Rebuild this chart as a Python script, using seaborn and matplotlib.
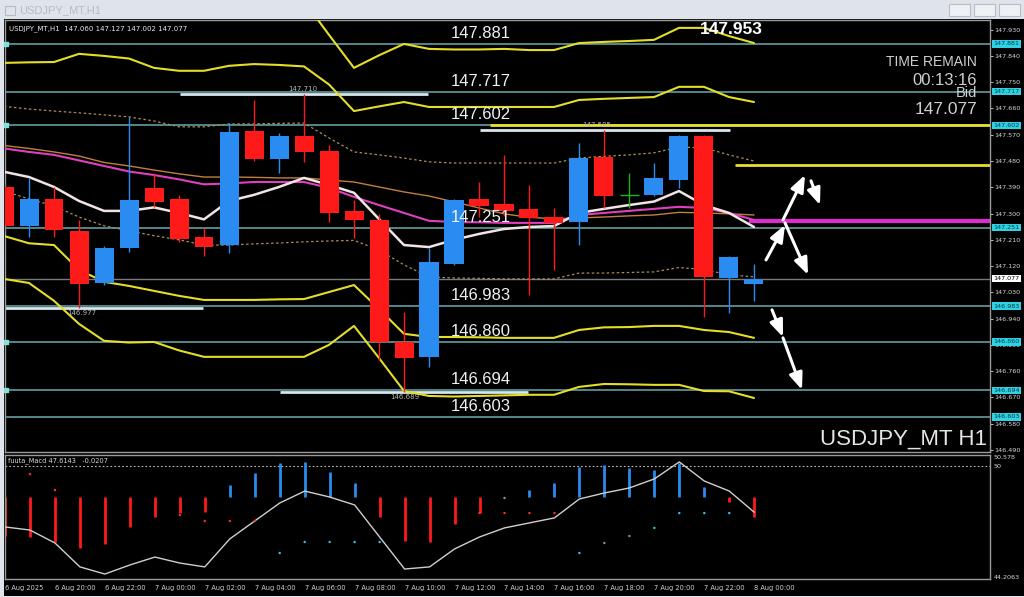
import numpy as np
import pandas as pd
import seaborn as sns
import matplotlib.pyplot as plt
from matplotlib.patches import Rectangle
from matplotlib.transforms import blended_transform_factory

sns.set_style('dark')
plt.rcParams['font.family'] = ['Liberation Sans', 'DejaVu Sans']

# ---- USDJPY H1 candles, 6 Aug 18:00 -> 8 Aug 00:00 ----
opens = [147.391, 147.258, 147.350, 147.240, 147.062, 147.182, 147.388, 147.350, 147.220, 147.192,
         147.583, 147.487, 147.566, 147.514, 147.309, 147.278, 146.860, 146.809, 147.127, 147.350,
         147.333, 147.316, 147.288, 147.271, 147.494, 147.364, 147.364, 147.415, 147.566, 147.079, 147.060]
highs = [147.400, 147.422, 147.391, 147.278, 147.190, 147.631, 147.439, 147.362, 147.251, 147.610,
         147.689, 147.576, 147.710, 147.535, 147.347, 147.300, 146.963, 147.182, 147.350, 147.408,
         147.501, 147.398, 147.319, 147.542, 147.585, 147.439, 147.473, 147.570, 147.570, 147.155, 147.127]
lows = [147.240, 147.220, 147.220, 146.977, 147.055, 147.168, 147.323, 147.203, 147.155, 147.165,
        147.480, 147.439, 147.477, 147.271, 147.216, 146.798, 146.689, 146.774, 147.124, 147.288,
        147.290, 147.021, 147.107, 147.192, 147.319, 147.319, 147.360, 147.388, 146.946, 146.959, 147.002]
closes = [147.258, 147.350, 147.244, 147.059, 147.182, 147.347, 147.340, 147.213, 147.185, 147.580,
          147.487, 147.566, 147.511, 147.302, 147.278, 146.860, 146.805, 147.134, 147.347, 147.326,
          147.309, 147.285, 147.268, 147.490, 147.360, 147.364, 147.422, 147.566, 147.083, 147.151, 147.077]

# ---- indicator lines on the price chart ----
band_up3 = [148.12, 148.14, 148.15, 148.19, 148.21, 148.22, 148.20, 148.18, 148.15, 148.12,
            148.09, 148.06, 148.028, 147.912, 147.799, 147.842, 147.881, 147.864, 147.862, 147.862,
            147.864, 147.860, 147.860, 147.884, 147.888, 147.891, 147.895, 147.936, 147.936, 147.908, 147.884]
band_up2 = [147.816, 147.818, 147.819, 147.847, 147.840, 147.831, 147.799, 147.789, 147.789, 147.806,
            147.812, 147.809, 147.804, 147.742, 147.651, 147.667, 147.682, 147.665, 147.665, 147.665,
            147.665, 147.665, 147.665, 147.689, 147.693, 147.696, 147.699, 147.734, 147.734, 147.699, 147.682]
band_up1 = [147.667, 147.658, 147.651, 147.645, 147.638, 147.631, 147.617, 147.597, 147.597, 147.607,
            147.607, 147.609, 147.610, 147.559, 147.511, 147.501, 147.490, 147.477, 147.473, 147.473,
            147.473, 147.473, 147.473, 147.490, 147.496, 147.501, 147.508, 147.528, 147.525, 147.501, 147.480]
ma_mid = [147.533, 147.523, 147.511, 147.497, 147.475, 147.463, 147.449, 147.436, 147.425, 147.425,
          147.424, 147.422, 147.422, 147.415, 147.408, 147.391, 147.374, 147.360, 147.340, 147.319,
          147.299, 147.287, 147.282, 147.285, 147.288, 147.292, 147.295, 147.304, 147.302, 147.299, 147.295]
ma_pink = [147.523, 147.511, 147.501, 147.482, 147.463, 147.444, 147.432, 147.417, 147.400, 147.403,
           147.408, 147.408, 147.408, 147.388, 147.357, 147.329, 147.302, 147.275, 147.271, 147.270,
           147.268, 147.268, 147.268, 147.295, 147.302, 147.309, 147.316, 147.323, 147.319, 147.302, 147.278]
ma_fast = [147.443, 147.425, 147.391, 147.343, 147.309, 147.309, 147.321, 147.302, 147.280, 147.343,
           147.364, 147.391, 147.422, 147.398, 147.371, 147.281, 147.192, 147.185, 147.210, 147.230,
           147.247, 147.254, 147.257, 147.302, 147.316, 147.329, 147.341, 147.377, 147.329, 147.302, 147.254]
band_dn1 = [147.377, 147.350, 147.326, 147.288, 147.258, 147.241, 147.224, 147.210, 147.192, 147.192,
            147.196, 147.199, 147.203, 147.206, 147.208, 147.175, 147.124, 147.083, 147.079, 147.078,
            147.076, 147.076, 147.076, 147.096, 147.096, 147.098, 147.100, 147.115, 147.108, 147.090, 147.083]
band_dn2 = [147.223, 147.198, 147.192, 147.107, 147.066, 147.052, 147.035, 147.018, 147.004, 147.004,
            147.004, 147.006, 147.007, 147.031, 147.055, 146.973, 146.888, 146.877, 146.877, 146.876,
            146.874, 146.874, 146.874, 146.901, 146.910, 146.911, 146.915, 146.915, 146.901, 146.894, 146.874]
band_dn3 = [147.076, 147.062, 147.001, 146.922, 146.864, 146.858, 146.860, 146.831, 146.809, 146.809,
            146.809, 146.809, 146.809, 146.850, 146.915, 146.805, 146.692, 146.675, 146.673, 146.675,
            146.677, 146.679, 146.679, 146.706, 146.716, 146.715, 146.713, 146.713, 146.692, 146.691, 146.668]

# ---- levels ----
levels = [147.881, 147.717, 147.602, 147.251, 146.983, 146.860, 146.694, 146.603]
level_marked = [147.881, 147.602, 146.860, 146.694]
bid = 147.077
price_ticks = ['147.930', '147.840', '147.750', '147.660', '147.570', '147.480', '147.390', '147.300',
               '147.210', '147.120', '147.030', '146.940', '146.850', '146.760', '146.670', '146.580', '146.490']
# high / low markers: (price, first candle, last candle, label)
hl_price = [147.710, 147.585, 146.977, 146.689]
hl_from = [7.04, 19.04, 0.04, 11.04]
hl_to = [16.96, 29.04, 7.96, 20.96]
hl_label_x = [11.96, 23.72, 3.12, 16.04]

# ---- fuuta_Macd sub window ----
osc_line = [46.85, 46.69, 46.02, 44.78, 44.41, 44.88, 45.29, 44.98, 44.78, 46.23,
            47.16, 48.09, 48.71, 48.40, 47.99, 46.33, 44.67, 44.78, 45.71, 46.33,
            46.80, 47.06, 47.32, 48.30, 48.61, 48.87, 49.34, 50.22, 49.23, 48.71, 47.61]
osc_base = 48.38
osc_bars = [46.38, 46.33, 46.07, 45.76, 45.97, 46.85, 47.37, 47.57, 47.63, 49.02,
            49.65, 50.16, 50.22, 49.70, 49.13, 47.37, 46.12, 46.07, 47.00, 47.57,
            48.38, 48.76, 49.13, 49.96, 50.06, 49.90, 49.80, 50.16, 48.92, 48.14, 47.37]
dot_idx = [1, 2, 7, 8, 9, 10, 11, 12, 13, 14, 15, 19, 20, 20, 21, 22, 23, 24, 25, 26, 27, 28, 29]
dot_val = [49.59, 48.76, 47.47, 47.16, 47.16, 47.16, 45.50, 46.07, 46.07, 46.07, 46.07, 47.57, 48.35,
           47.57, 47.57, 47.57, 45.50, 46.02, 46.38, 46.80, 47.57, 47.57, 47.57]
dot_kind = ['r', 'r', 'r', 'r', 'r', 'r', 'c', 'c', 'c', 'c', 'c', 'r', 'g', 'r', 'r', 'r', 'c', 'g', 'g',
            'c', 'c', 'c', 'c']

time_labels = ['6 Aug 2025', '6 Aug 20:00', '6 Aug 22:00', '7 Aug 00:00', '7 Aug 02:00', '7 Aug 04:00',
               '7 Aug 06:00', '7 Aug 08:00', '7 Aug 10:00', '7 Aug 12:00', '7 Aug 14:00', '7 Aug 16:00',
               '7 Aug 18:00', '7 Aug 20:00', '7 Aug 22:00', '8 Aug 00:00']

df = pd.DataFrame({'o': opens, 'h': highs, 'l': lows, 'c': closes})
df['i'] = np.arange(len(df))

W, H = 1024, 597
fig = plt.figure(figsize=(W / 100, H / 100), dpi=100, facecolor='#dfe4ea')

def px_axes(x0, y0, x1, y1, **kw):
    return fig.add_axes([x0 / W, 1 - y1 / H, (x1 - x0) / W, (y1 - y0) / H], **kw)

# window chrome
bg = px_axes(4, 19, 1024, 596)
bg.set_facecolor('black')
bg.set_xticks([]); bg.set_yticks([])
for s in bg.spines.values():
    s.set_visible(False)
fig.text(19 / W, 1 - 10 / H, 'USDJPY_MT,H1', color='#b4bcc6', fontsize=8, va='center')
fig.patches.append(Rectangle((5 / W, 1 - 15 / H), 10 / W, 9 / H, transform=fig.transFigure,
                             fc='none', ec='#b4bcc6', lw=0.8))
for bx in [949, 974, 999]:
    fig.patches.append(Rectangle((bx / W, 1 - 16 / H), 21 / W, 12 / H, transform=fig.transFigure,
                                 fc='#eef1f4', ec='#b8bec6', lw=0.8))

XMIN, XMAX = 0.04, 39.44
ax = px_axes(5, 20, 990, 452)
ax.set_facecolor('black')
ax.set_xlim(XMIN, XMAX)
ax.set_ylim(146.483, 147.963)
for s in ax.spines.values():
    s.set_color('#9a9a9a'); s.set_linewidth(1)

yl = blended_transform_factory(ax.transAxes, ax.transData)

# horizontal levels
for lv in levels:
    ax.axhline(lv, color='#5f9ea0', lw=1.2, zorder=1)
ax.scatter([XMIN + 0.04] * len(level_marked), level_marked, marker='s', s=8, color='#7fe0e0',
           zorder=3, clip_on=False)
ax.axhline(bid, color='#7a7a7a', lw=1, zorder=1)

# yellow / magenta projection lines
ax.hlines(147.602, 19.44, XMAX, color='#e8e02a', lw=2, zorder=2)
ax.hlines(147.466, 29.24, XMAX, color='#e8e02a', lw=2, zorder=2)
ax.hlines(147.275, 29.8, XMAX, color='#e02ad0', lw=3, zorder=2)

# high / low markers
for p, a, b, lx in zip(hl_price, hl_from, hl_to, hl_label_x):
    ax.hlines(p, a, b, color='#d8e6ee', lw=2, zorder=2)
    above = p > 147.3
    ax.text(lx, p + (0.008 if above else -0.008), f'{p:.3f}', color='#b8b8b8', fontsize=5,
            ha='center', va='bottom' if above else 'top', family='DejaVu Sans', zorder=4)

# bands and moving averages
sty = dict(ax=ax, x=df['i'], legend=False, estimator=None, sort=False)
for ser in [band_up3, band_up2, band_dn2, band_dn3]:
    sns.lineplot(y=ser, color='#e4de28', lw=1.5, zorder=3, **sty)
for ser in [band_up1, band_dn1]:
    sns.lineplot(y=ser, color='#a8905a', lw=0.9, linestyle=(0, (2, 2)), zorder=3, **sty)
sns.lineplot(y=ma_mid, color='#c0803c', lw=1, zorder=3, **sty)
sns.lineplot(y=ma_pink, color='#e040c0', lw=1.5, zorder=3, **sty)
sns.lineplot(y=ma_fast, color='#f2e4e4', lw=1.8, zorder=3, **sty)

# candles
up_col, dn_col = '#2a8cf0', '#ff1a1a'
for r in df.itertuples():
    col = up_col if r.c > r.o else (dn_col if r.c < r.o else '#22b022')
    ax.vlines(r.i, r.l, r.h, color=col, lw=1, zorder=4)
    if r.c == r.o:
        ax.hlines(r.o, r.i - 0.38, r.i + 0.38, color=col, lw=1, zorder=4)
    else:
        ax.bar(r.i, abs(r.c - r.o), bottom=min(r.o, r.c), width=0.76, color=col, lw=0, zorder=5)

# level labels
for lv in levels:
    ax.text(17.88, lv + 0.011, f'{lv:.3f}', color='#f0f0f0', fontsize=12, va='bottom', ha='left', zorder=6)

# arrows (index, price)
arrows = [((30.48, 147.141), (31.24, 147.261)), ((31.16, 147.278), (32.04, 147.432)),
          ((32.28, 147.412), (32.64, 147.329)), ((31.24, 147.268), (32.16, 147.090)),
          ((30.72, 146.970), (31.16, 146.877)), ((31.16, 146.874), (31.92, 146.696))]
for s, e in arrows:
    ax.annotate('', xy=e, xytext=s, zorder=7,
                arrowprops=dict(arrowstyle='-|>,head_length=1.0,head_width=0.4', color='white', lw=2.2,
                                shrinkA=0, shrinkB=0))

# right price scale
ax.yaxis.tick_right()
ax.set_yticks([float(t) for t in price_ticks])
ax.set_yticklabels(price_ticks)
ax.tick_params(axis='y', colors='#d8d8d8', labelsize=4.6, length=2, width=0.6, pad=1)
ax.tick_params(axis='x', bottom=False, labelbottom=False)
ax.set_xlabel(''); ax.set_ylabel('')
for t in ax.get_yticklabels():
    t.set_family('DejaVu Sans')
for lv in levels:
    ax.text(1.0035, lv, f'{lv:.3f}', transform=yl, fontsize=4.6, color='#0a3a44', va='center', ha='left',
            family='DejaVu Sans', clip_on=False, zorder=8,
            bbox=dict(boxstyle='square,pad=0.18', fc='#2fd2e2', ec='none'))
ax.text(1.0035, bid, f'{bid:.3f}', transform=yl, fontsize=4.6, color='black', va='center', ha='left',
        family='DejaVu Sans', clip_on=False, zorder=8, bbox=dict(boxstyle='square,pad=0.18', fc='white', ec='none'))

# texts
ax.text(0.004, 0.979, 'USDJPY_MT,H1  147.060 147.127 147.002 147.077', transform=ax.transAxes,
        color='#e8e8e8', fontsize=5, va='center', family='DejaVu Sans')
ax.text(0.737, 0.979, '147.953', transform=ax.transAxes, color='white', fontsize=12.5,
        fontweight='bold', va='center', ha='center', zorder=7)
for txt, yy, fs in [('TIME REMAIN', 0.903, 10), ('00:13:16', 0.861, 12), ('Bid', 0.831, 10.5),
                    ('147.077', 0.792, 12.5)]:
    ax.text(0.9868, yy, txt, transform=ax.transAxes, color='#cfcfcf', fontsize=fs, ha='right', va='center')
ax.text(0.997, 0.030, 'USDJPY_MT H1', transform=ax.transAxes, color='#e6e6e6', fontsize=16,
        ha='right', va='center')

# ---- oscillator window ----
ax2 = px_axes(5, 455, 990, 579)
ax2.set_facecolor('black')
ax2.set_xlim(XMIN, XMAX)
ax2.set_ylim(44.153, 50.578)
for s in ax2.spines.values():
    s.set_color('#9a9a9a'); s.set_linewidth(1)
ax2.axhline(50, color='#bdbdbd', lw=0.8, linestyle=(0, (1.5, 2)))
for i, v in enumerate(osc_bars):
    if v == osc_base:
        continue
    ax2.vlines(i, osc_base, v, color=up_col if v > osc_base else dn_col, lw=2, zorder=2)
sns.lineplot(ax=ax2, x=df['i'], y=osc_line, color='#cfcfcf', lw=1, legend=False, zorder=3)
dot_cols = {'r': '#ff3030', 'c': '#30c8e0', 'g': '#7a9a9a'}
ax2.scatter(dot_idx, dot_val, c=[dot_cols[k] for k in dot_kind], s=3, lw=0, zorder=4)
ax2.text(0.003, 0.952, 'fuuta_Macd 47.6143   -0.0207', transform=ax2.transAxes, color='#d8d8d8',
         fontsize=4.8, va='center', family='DejaVu Sans')
ax2.set_yticks([])
ax2.set_xlabel(''); ax2.set_ylabel('')
yl2 = blended_transform_factory(ax2.transAxes, ax2.transData)
for v, lab, va in [(50.578, '50.578', 'top'), (50.0, '50', 'center'), (44.2063, '44.2063', 'center')]:
    ax2.text(1.004, v, lab, transform=yl2, color='#d8d8d8', fontsize=4.6, va=va, ha='left',
             family='DejaVu Sans', clip_on=False)
ax2.set_xticks(np.arange(0, 31, 2))
ax2.set_xticklabels(time_labels)
ax2.tick_params(axis='x', colors='#d0d0d0', labelsize=4.8, length=3, width=0.6, pad=1.5)
for t in ax2.get_xticklabels():
    t.set_ha('left'); t.set_family('DejaVu Sans')

fig.savefig('out.png', dpi=100, facecolor=fig.get_facecolor())
